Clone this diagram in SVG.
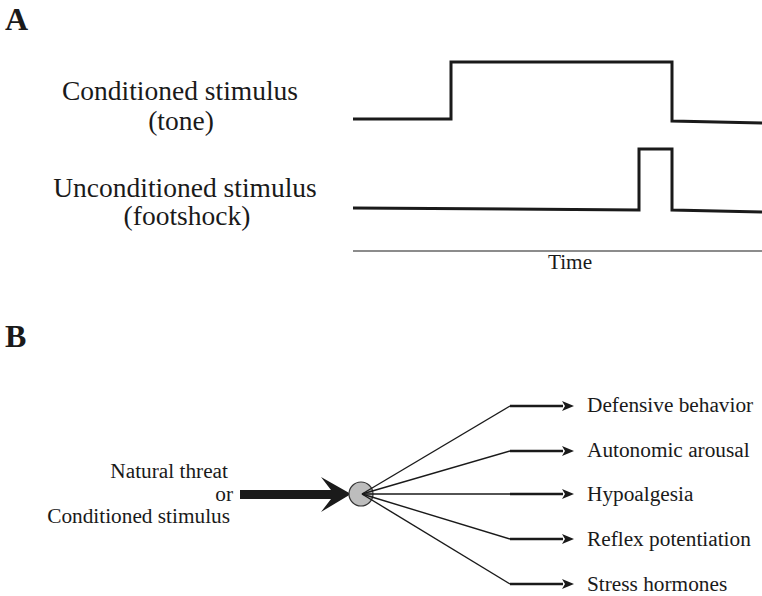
<svg xmlns="http://www.w3.org/2000/svg" width="762" height="596" viewBox="0 0 762 596">
  <style>
    text { font-family: "Liberation Serif", "Times New Roman", serif; fill: #1a1a1a; }
    .panel { font-weight: bold; font-size: 32px; }
    .lbl { font-size: 27.5px; text-anchor: middle; }
    .small { font-size: 21.3px; }
    .wave { fill: none; stroke: #1a1a1a; stroke-width: 3; stroke-linejoin: miter; }
    .axis { stroke: #1a1a1a; stroke-width: 1.2; }
    .fan { fill: none; stroke: #1a1a1a; stroke-width: 1.4; }
    .out { fill: none; stroke: #1a1a1a; stroke-width: 2.6; marker-end: url(#head); }
  </style>
  <defs>
    <marker id="head" markerUnits="userSpaceOnUse" markerWidth="12" markerHeight="12" viewBox="0 0 12 10" refX="1" refY="5" orient="auto">
      <path d="M0,0 L12,5 L0,10 L3,5 Z" fill="#1a1a1a"/>
    </marker>
  </defs>

  <rect width="762" height="596" fill="#ffffff"/>

  <!-- Panel A: stimulus timing -->
  <text class="panel" x="5" y="30">A</text>
  <g id="cs-label">
    <text class="lbl" x="180" y="100">Conditioned stimulus</text>
    <text class="lbl" x="181" y="130">(tone)</text>
  </g>
  <g id="us-label">
    <text class="lbl" x="185" y="197">Unconditioned stimulus</text>
    <text class="lbl" x="187" y="225">(footshock)</text>
  </g>
  <g id="traces">
    <polyline id="cs-trace" class="wave" points="353,119 451,119 451,62 672,62 672,121 762,123"/>
    <polyline id="us-trace" class="wave" points="353,208 639,210 639,149 672,149 672,210 762,212"/>
  </g>
  <g id="time-axis">
    <line class="axis" x1="353" y1="251" x2="762" y2="251"/>
    <text class="small" x="570" y="269" text-anchor="middle">Time</text>
  </g>

  <!-- Panel B: fear responses -->
  <text class="panel" x="5" y="347">B</text>
  <g id="input">
    <text class="small" x="228" y="478" text-anchor="end">Natural threat</text>
    <text class="small" x="233" y="501" text-anchor="end">or</text>
    <text class="small" x="230" y="523" text-anchor="end">Conditioned stimulus</text>
    <path d="M240,490 L331,490 L321,477 L351,494 L321,512 L331,499 L240,499 Z" fill="#1a1a1a"/>
  </g>
  <g id="hub">
    <circle cx="361" cy="494" r="12" fill="#bdbdbd" stroke="#333" stroke-width="1.2"/>
  </g>
  <g id="connectors">
    <polyline class="fan" points="362,494 510,406"/>
    <polyline class="fan" points="362,494 510,451"/>
    <polyline class="fan" points="362,494 510,494"/>
    <polyline class="fan" points="362,494 510,539"/>
    <polyline class="fan" points="362,494 510,584"/>
    <line class="out" x1="510" y1="406" x2="563" y2="406"/>
    <line class="out" x1="510" y1="451" x2="563" y2="451"/>
    <line class="out" x1="510" y1="494" x2="563" y2="494"/>
    <line class="out" x1="510" y1="539" x2="563" y2="539"/>
    <line class="out" x1="510" y1="584" x2="563" y2="584"/>
  </g>
  <g id="out-defensive"><text class="small" x="587" y="412">Defensive behavior</text></g>
  <g id="out-autonomic"><text class="small" x="587" y="457">Autonomic arousal</text></g>
  <g id="out-hypoalgesia"><text class="small" x="587" y="501">Hypoalgesia</text></g>
  <g id="out-reflex"><text class="small" x="587" y="546">Reflex potentiation</text></g>
  <g id="out-stress"><text class="small" x="587" y="591">Stress hormones</text></g>
</svg>
